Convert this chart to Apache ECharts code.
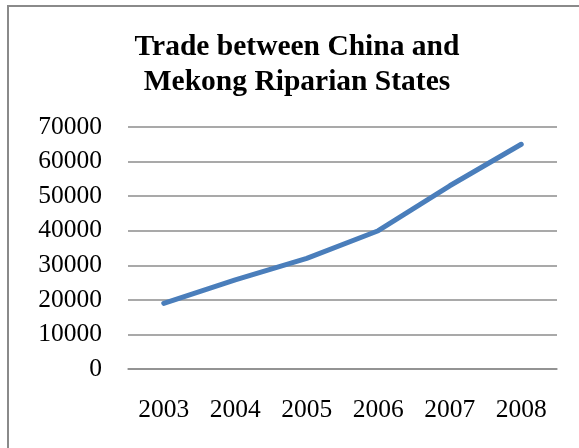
<!DOCTYPE html>
<html>
<head>
<meta charset="utf-8">
<script src="https://cdn.jsdelivr.net/npm/echarts@6/dist/echarts.min.js"></script>
<style>html,body{margin:0;padding:0;background:#fff;}#c{width:579px;height:448px;}</style>
</head>
<body>
<div id="c"></div>
<script>
var years = ['2003', '2004', '2005', '2006', '2007', '2008'];
var tradeValues = [19000, 25800, 32000, 40000, 53000, 65000];
var yTicks = { min: 0, max: 70000, interval: 10000 };

var chart = echarts.init(document.getElementById('c'));
var serif = '"Liberation Serif", "Times New Roman", serif';
chart.setOption({
  backgroundColor: '#fff',
  animation: false,
  title: {
    text: 'Trade between China and\nMekong Riparian States',
    left: 292, top: 25, textAlign: 'center',
    textStyle: { fontFamily: serif, fontWeight: 'bold', fontSize: 29.5, lineHeight: 35, color: '#000' }
  },
  graphic: [{
    type: 'rect', shape: { x: 8, y: 6, width: 600, height: 480 },
    style: { fill: 'none', stroke: '#8a8a8a', lineWidth: 2 }, silent: true, z: 100
  }],
  grid: { left: 128, right: 22, top: 127, bottom: 79 },
  xAxis: {
    type: 'category', data: years, boundaryGap: true,
    axisLine: { show: true, lineStyle: { color: '#8c8c8c', width: 1.5 } },
    axisTick: { show: false },
    axisLabel: { fontFamily: serif, fontSize: 25.5, color: '#000', margin: 28 }
  },
  yAxis: {
    type: 'value', min: yTicks.min, max: yTicks.max, interval: yTicks.interval,
    axisLine: { show: false }, axisTick: { show: false },
    splitLine: { lineStyle: { color: '#8c8c8c', width: 1.5 } },
    axisLabel: { fontFamily: serif, fontSize: 25.5, color: '#000', margin: 26,
      formatter: function (v) { return String(v); } }
  },
  series: [{
    type: 'line', data: tradeValues, symbol: 'none',
    lineStyle: { color: '#4a7ebb', width: 5, cap: 'round', join: 'round' }
  }]
});
</script>
</body>
</html>
